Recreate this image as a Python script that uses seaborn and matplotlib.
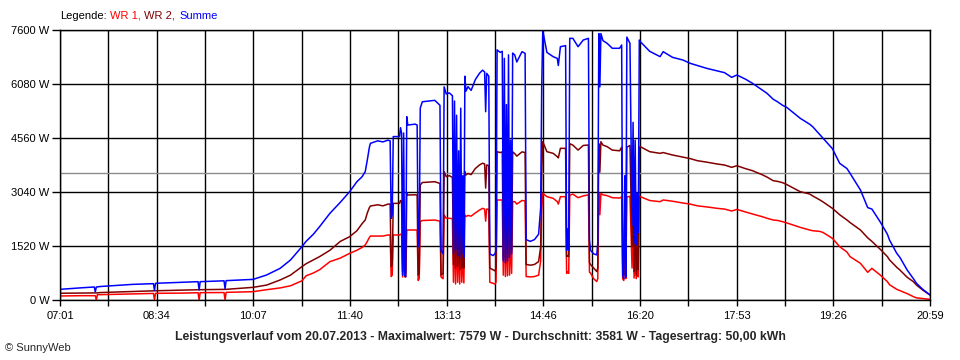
import numpy as np
import pandas as pd
import matplotlib
matplotlib.use("Agg")
import matplotlib.pyplot as plt
import seaborn as sns

# Uhrzeit der Messpunkte
zeit = [
    "07:01", "07:20", "07:34", "07:35", "07:36", "07:37", "07:40", "08:11", "08:31", "08:32",
    "08:33", "09:00", "09:14", "09:15", "09:16", "09:39", "09:40", "09:41", "10:07", "10:20",
    "10:33", "10:43", "10:54", "10:58", "11:05", "11:11", "11:21", "11:31", "11:40", "11:47",
    "11:52", "11:55", "11:57", "11:59", "12:00", "12:07", "12:12", "12:17", "12:19", "12:20",
    "12:21", "12:22", "12:28", "12:29", "12:30", "12:31", "12:32", "12:33", "12:34", "12:35",
    "12:36", "12:43", "12:45", "12:46", "12:47", "12:48", "12:50", "13:02", "13:07", "13:08",
    "13:10", "13:11", "13:13", "13:16", "13:19", "13:20", "13:21", "13:22", "13:23", "13:24",
    "13:25", "13:26", "13:27", "13:28", "13:29", "13:30", "13:31", "13:32", "13:34", "13:37",
    "13:41", "13:45", "13:48", "13:50", "13:51", "13:52", "13:54", "13:55", "13:58", "14:00",
    "14:01", "14:02", "14:05", "14:07", "14:08", "14:09", "14:10", "14:11", "14:12", "14:13",
    "14:14", "14:15", "14:16", "14:17", "14:19", "14:21", "14:26", "14:29", "14:30", "14:34",
    "14:38", "14:42", "14:44", "14:45", "14:46", "14:50", "14:56", "15:00", "15:01", "15:03",
    "15:08", "15:09", "15:10", "15:11", "15:12", "15:15", "15:20", "15:25", "15:30", "15:31",
    "15:32", "15:35", "15:38", "15:39", "15:40", "15:41", "15:42", "15:44", "15:48", "15:53",
    "16:00", "16:02", "16:03", "16:04", "16:05", "16:06", "16:07", "16:10", "16:12", "16:13",
    "16:14", "16:15", "16:16", "16:17", "16:18", "16:19", "16:20", "16:29", "16:39", "16:42",
    "16:51", "17:01", "17:08", "17:15", "17:24", "17:34", "17:41", "17:48", "17:53", "18:01",
    "18:08", "18:18", "18:22", "18:28", "18:32", "18:37", "18:41", "18:54", "19:03", "19:06",
    "19:13", "19:16", "19:25", "19:32", "19:39", "19:42", "19:52", "19:59", "20:03", "20:11",
    "20:18", "20:20", "20:27", "20:30", "20:37", "20:43", "20:46", "20:52", "20:59",
]

summe = [
    300, 340, 366, 230, 366, 370, 380, 440, 460, 273,
    470, 500, 516, 280, 516, 540, 318, 545, 580, 704,
    891, 1126, 1500, 1650, 1850, 2063, 2440, 2750, 3050, 3330,
    3470, 3613, 3940, 4300, 4410, 4480, 4450, 4500, 4480, 2300,
    2400, 4600, 4600, 4850, 4700, 700, 4700, 700, 650, 5160,
    4925, 4950, 4925, 1500, 1700, 5400, 5580, 5620, 5480, 1400,
    1300, 6000, 5800, 5830, 5750, 1300, 5600, 1400, 5200, 1250,
    4200, 1200, 5400, 1300, 3500, 1200, 6300, 5880, 6005, 5900,
    6200, 6380, 6470, 6420, 5300, 6380, 6300, 1300, 1250, 1300,
    1400, 7040, 6970, 7000, 1100, 6800, 1050, 5500, 1100, 6900,
    1200, 4500, 1300, 6950, 6900, 6700, 6990, 6943, 1700, 1650,
    1700, 1850, 2600, 6000, 7579, 6970, 6850, 6800, 6600, 7130,
    7160, 1400, 2000, 1400, 7365, 7365, 7130, 7318, 7365, 1700,
    1400, 1300, 1270, 1600, 7500, 6000, 7500, 7300, 7225, 7085,
    7085, 7178, 700, 600, 3500, 650, 7400, 7225, 2100, 5000,
    1600, 4500, 1550, 3000, 1900, 7318, 7270, 7000, 6850, 6990,
    6830, 6755, 6662, 6600, 6520, 6450, 6400, 6268, 6333, 6220,
    6100, 5900, 5818, 5650, 5582, 5480, 5423, 5114, 4950, 4878,
    4650, 4551, 4260, 3847, 3700, 3566, 3096, 2600, 2560, 2200,
    1850, 1689, 1313, 1200, 844, 600, 469, 300, 141,
]

wr2 = [
    190, 195, 200, 200, 200, 200, 210, 240, 260, 260,
    260, 280, 290, 290, 290, 300, 300, 300, 356, 420,
    563, 700, 938, 1020, 1126, 1220, 1400, 1650, 1782, 1950,
    2150, 2252, 2450, 2600, 2646, 2680, 2650, 2700, 2700, 940,
    1000, 2720, 2720, 2800, 2780, 800, 2900, 750, 760, 3000,
    2956, 2960, 2956, 700, 750, 3237, 3307, 3330, 3280, 700,
    750, 3613, 3470, 3500, 3450, 1000, 3400, 900, 3200, 950,
    2600, 850, 3300, 900, 2000, 900, 3613, 3520, 3560, 3530,
    3700, 3800, 3850, 3830, 3150, 3800, 3780, 900, 850, 820,
    900, 4175, 4150, 4170, 1150, 4100, 1150, 3300, 1200, 4150,
    1300, 2800, 1400, 4170, 4120, 4050, 4170, 4150, 1000, 980,
    1000, 1080, 1500, 3600, 4456, 4175, 4128, 4034, 4000, 4269,
    4269, 1220, 1250, 1220, 4400, 4360, 4220, 4350, 4363, 1050,
    1000, 900, 800, 900, 4400, 3600, 4456, 4360, 4316, 4220,
    4200, 4300, 1000, 700, 2200, 800, 4300, 4350, 1500, 3300,
    800, 2600, 700, 2000, 850, 4300, 4316, 4175, 4128, 4150,
    4081, 4020, 3980, 3921, 3880, 3828, 3800, 3735, 3780, 3700,
    3640, 3518, 3460, 3358, 3340, 3303, 3250, 3049, 2984, 2930,
    2815, 2760, 2580, 2400, 2252, 2180, 1970, 1750, 1650, 1430,
    1220, 1130, 920, 844, 640, 516, 420, 280, 141,
]

wr1 = [
    113, 121, 121, 121, 0, 150, 150, 170, 185, 0,
    188, 195, 205, 0, 206, 210, 0, 215, 234, 290,
    340, 400, 540, 680, 760, 850, 1080, 1180, 1313, 1400,
    1480, 1548, 1650, 1760, 1800, 1800, 1800, 1830, 1830, 660,
    700, 1830, 1830, 1850, 1850, 650, 1900, 650, 660, 1970,
    1970, 1970, 1970, 550, 600, 2205, 2238, 2250, 2220, 650,
    600, 2393, 2300, 2300, 2290, 500, 2200, 450, 2100, 500,
    1700, 450, 2200, 500, 1400, 480, 2393, 2350, 2380, 2360,
    2450, 2530, 2580, 2560, 2220, 2560, 2550, 500, 470, 450,
    500, 2815, 2815, 2815, 700, 2800, 660, 2200, 680, 2800,
    700, 1900, 750, 2768, 2768, 2700, 2800, 2790, 660, 650,
    660, 700, 1100, 2500, 3002, 2909, 2862, 2768, 2700, 2909,
    2909, 750, 800, 750, 2950, 2980, 2880, 2930, 2960, 780,
    760, 600, 520, 600, 3000, 2400, 3002, 2960, 2937, 2880,
    2870, 2900, 600, 550, 1300, 600, 2900, 2920, 900, 2000,
    620, 1800, 600, 1400, 650, 2920, 2909, 2800, 2768, 2815,
    2780, 2730, 2700, 2650, 2620, 2580, 2560, 2505, 2550, 2480,
    2421, 2340, 2300, 2252, 2240, 2205, 2170, 2045, 1970, 1950,
    1930, 1900, 1736, 1501, 1350, 1220, 1032, 779, 891, 704,
    516, 430, 300, 263, 180, 94, 60, 40, 19,
]

x_labels = ["07:01", "", "08:34", "", "10:07", "", "11:40", "", "13:13", "",
            "14:46", "", "16:20", "", "17:53", "", "19:26", "", "20:59"]
y_ticks = [0, 1520, 3040, 4560, 6080, 7600]
durchschnitt = 3581

assert len(zeit) == len(summe) == len(wr1) == len(wr2)


def to_min(s):
    h, m = s.split(":")
    return int(h) * 60 + int(m)


df = pd.DataFrame({
    "Zeit": [to_min(t) for t in zeit],
    "WR 1": wr1,
    "WR 2": wr2,
    "Summe": summe,
})

sns.set_style("white")
plt.rcParams["font.family"] = ["Liberation Sans", "DejaVu Sans"]

fig = plt.figure(figsize=(9.6, 3.6), dpi=100)
ax = fig.add_axes([60 / 960, 60 / 360, 870 / 960, 270 / 360])

ax.axhline(durchschnitt, color="#8c8c8c", lw=1, zorder=1.5)
for name, col in [("WR 1", "#ff0000"), ("WR 2", "#800000"), ("Summe", "#0000ff")]:
    sns.lineplot(data=df, x="Zeit", y=name, color=col, lw=1.1, ax=ax,
                 estimator=None, sort=False, zorder=2)

start, end = to_min(x_labels[0]), to_min(x_labels[-1])
ax.set_xlim(start, end)
ax.set_ylim(0, 7600)
ax.set_xticks(np.linspace(start, end, len(x_labels)))
ax.set_xticklabels(x_labels)
ax.set_yticks(y_ticks)
ax.set_yticklabels([f"{v} W" for v in y_ticks])
ax.set_xlabel("")
ax.set_ylabel("")

ax.grid(True, color="black", lw=1)
ax.set_axisbelow(True)
for sp in ax.spines.values():
    sp.set_color("black")
    sp.set_linewidth(1)
ax.tick_params(axis="y", length=6, width=1, pad=1.5, labelsize=8, colors="black", left=True)
ax.tick_params(axis="x", length=4, width=1, pad=4, labelsize=8, colors="black", bottom=True)

# Legende oben links
ly = 1 - 16 / 360
fig.text(60 / 960, ly, "Legende:", va="center", fontsize=8, color="black")
fig.text(110 / 960, ly, "WR 1,", va="center", fontsize=8, color="#ff0000")
fig.text(144 / 960, ly, "WR 2,", va="center", fontsize=8, color="#800000")
fig.text(179 / 960, ly, "Summe", va="center", fontsize=8, color="#0000ff")

fig.text(0.5, 1 - 337 / 360,
         "Leistungsverlauf vom 20.07.2013 - Maximalwert: 7579 W - Durchschnitt: 3581 W - Tagesertrag: 50,00 kWh",
         ha="center", va="center", fontsize=8.8, fontweight="bold")
fig.text(5 / 960, 1 - 348 / 360, "© SunnyWeb", va="center", fontsize=8)

fig.savefig("out.png", dpi=100)
